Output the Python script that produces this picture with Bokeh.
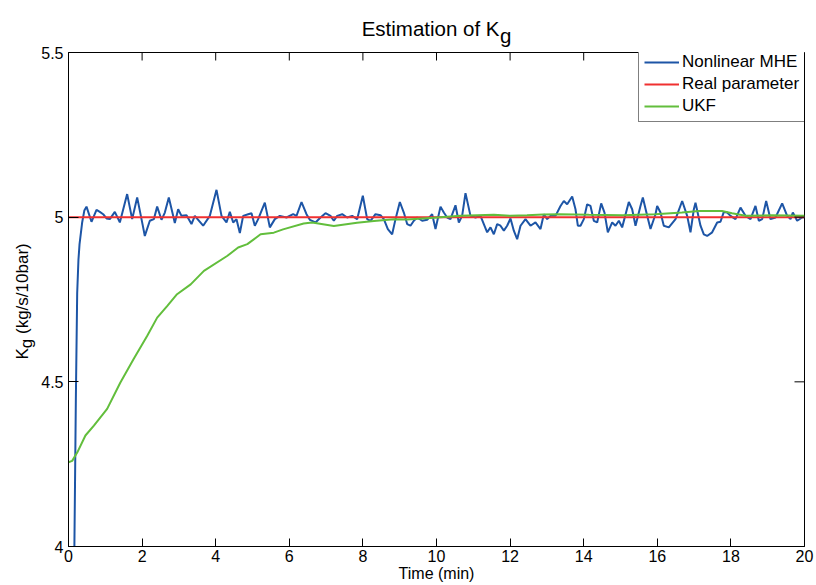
from bokeh.plotting import figure
from bokeh.models import Range1d, FixedTicker, Label
from bokeh.embed import file_html
from bokeh.resources import INLINE
import math

# ---------------- data ----------------
mhe_t = [0.14, 0.16, 0.20, 0.236, 0.27, 0.30, 0.37, 0.43,
         0.489, 0.625, 0.761, 0.851, 0.942, 1.033, 1.123, 1.259, 1.395, 1.594, 1.730, 1.866,
         2.011, 2.074, 2.210, 2.319, 2.409, 2.527, 2.618, 2.726, 2.844, 2.889, 2.980,
         3.071, 3.207, 3.342, 3.433, 3.524, 3.659, 3.841, 4.022, 4.158, 4.293, 4.384,
         4.475, 4.565, 4.656, 4.746, 4.882, 4.973, 5.063, 5.154, 5.335, 5.471, 5.607,
         5.743, 5.924, 6.105, 6.196, 6.332, 6.467, 6.558, 6.712, 6.848, 6.984, 7.120,
         7.210, 7.301, 7.437, 7.572, 7.708, 7.844, 7.998, 8.116, 8.207, 8.342, 8.478,
         8.569, 8.678, 8.795, 8.886, 9.004, 9.112, 9.203, 9.293, 9.384, 9.475, 9.611,
         9.746, 9.882, 9.973, 10.109, 10.199, 10.290, 10.380, 10.516, 10.607, 10.697,
         10.788, 10.924, 11.060, 11.196, 11.286, 11.377, 11.467, 11.558, 11.649, 11.739,
         11.830, 11.920, 12.011, 12.101, 12.192, 12.283, 12.418, 12.554, 12.690, 12.826,
         12.917, 13.007, 13.098, 13.234, 13.370, 13.460, 13.551, 13.687, 13.777, 13.841,
         13.913, 14.004, 14.094, 14.185, 14.275, 14.366, 14.475, 14.565, 14.656, 14.774,
         14.864, 14.955, 15.045, 15.226, 15.317, 15.408, 15.543, 15.607, 15.725, 15.815,
         15.951, 15.996, 16.087, 16.177, 16.313, 16.495, 16.676, 16.812, 16.902, 16.993,
         17.038, 17.174, 17.264, 17.355, 17.491, 17.627, 17.717, 17.808, 17.899, 17.989,
         18.125, 18.261, 18.397, 18.533, 18.668, 18.759, 18.850, 18.958, 19.076, 19.212,
         19.393, 19.529, 19.620, 19.683, 19.801, 19.937, 20.0]
mhe_v = [3.85, 4.00, 4.45, 4.77, 4.87, 4.918, 4.983, 5.02,
         5.032, 4.986, 5.022, 5.016, 5.009, 4.996, 4.994, 5.016, 4.984, 5.070, 4.994, 5.060,
         4.979, 4.943, 4.989, 4.994, 5.032, 4.992, 5.014, 5.060, 5.004, 4.982, 5.024,
         5.004, 5.006, 4.979, 5.004, 4.992, 4.974, 5.004, 5.083, 5.004, 4.984, 5.016,
         4.984, 4.994, 4.952, 5.004, 5.009, 5.012, 4.974, 4.994, 5.044, 4.969, 4.994,
         5.004, 4.999, 5.009, 5.004, 5.046, 5.009, 4.992, 4.984, 4.999, 5.012, 5.004,
         4.989, 5.004, 5.009, 4.999, 5.004, 4.994, 5.065, 4.994, 4.989, 5.009, 5.006,
         4.994, 4.964, 4.948, 4.994, 5.046, 5.014, 4.979, 4.974, 4.989, 4.999, 4.989,
         4.992, 5.009, 4.964, 5.032, 5.014, 4.999, 4.994, 5.036, 4.984, 5.004,
         5.073, 5.004, 4.999, 5.004, 4.979, 4.954, 4.969, 4.948, 4.979, 4.974,
         4.959, 4.974, 4.996, 4.959, 4.933, 4.974, 4.994, 4.974, 4.984, 4.964,
         5.009, 4.994, 5.004, 5.004, 5.034, 5.049, 5.039, 5.063, 5.024, 4.974,
         4.974, 4.994, 5.039, 5.034, 4.989, 4.984, 5.042, 5.014, 4.954, 4.984,
         4.974, 4.989, 4.969, 5.046, 5.024, 4.974, 5.034, 5.060, 5.004, 4.964,
         5.009, 5.034, 5.014, 4.974, 4.969, 4.994, 5.049, 5.004, 4.954, 5.024,
         5.044, 4.974, 4.948, 4.943, 4.954, 4.984, 4.986, 5.016, 5.014, 5.004,
         4.994, 5.029, 5.004, 4.994, 5.034, 4.989, 4.994, 5.049, 4.994, 4.999,
         5.042, 5.004, 4.994, 5.014, 4.989, 4.999, 5.0]

real_t = [0.0, 20.0]
real_v = [5.0, 5.0]

ukf_t = [0.0, 0.1, 0.24, 0.46, 0.69, 1.05, 1.41, 1.77, 2.14, 2.41, 2.68, 2.95, 3.32,
         3.68, 4.31, 4.61, 4.86, 5.22, 5.58, 5.83, 6.39, 6.62, 7.21, 7.84, 8.3, 8.84,
         9.2, 9.93, 10.65, 11.56, 12.0, 12.46, 12.9, 13.35, 14.14, 15.05, 15.95, 16.67,
         17.13, 17.76, 18.03, 18.4, 19.12, 20.0]
ukf_v = [4.256, 4.26, 4.286, 4.337, 4.367, 4.418, 4.498, 4.569, 4.64, 4.695, 4.73, 4.766, 4.796,
         4.837, 4.882, 4.908, 4.918, 4.948, 4.953, 4.963, 4.981, 4.984, 4.973, 4.983, 4.988, 4.994,
         4.993, 4.998, 5.004, 5.007, 5.004, 5.006, 5.008, 5.009, 5.007, 5.006, 5.009, 5.014,
         5.019, 5.019, 5.012, 5.004, 5.006, 5.004]

series_names = ["Nonlinear MHE", "Real parameter", "UKF"]
x_ticks = [0, 2, 4, 6, 8, 10, 12, 14, 16, 18, 20]
y_ticks = [4, 4.5, 5, 5.5]
y_tick_labels = ["4", "4.5", "5", "5.5"]
title_main = "Estimation of K"
title_sub = "g"
ylabel_main = "K\u00a0\u00a0\u00a0(kg/s/10bar)"
ylabel_sub = "g"
xlabel = "Time (min)"

# ---------------- layout ----------------
W, H = 816, 585
L, R, T, B = 68, 12, 52, 39
X0, X1, Y0, Y1 = 0, 20, 4, 5.5
FONT = "Liberation Sans"
fw = W - L - R
fh = H - T - B

def dx(px):
    return X0 + (px - L) * (X1 - X0) / fw

def dy(py):
    return Y0 + (H - B - py) * (Y1 - Y0) / fh

p = figure(width=W, height=H, x_range=Range1d(X0, X1), y_range=Range1d(Y0, Y1),
           output_backend="svg", toolbar_location=None,
           min_border_left=L, min_border_right=R, min_border_top=T, min_border_bottom=B)
p.background_fill_color = "white"
p.border_fill_color = "white"
p.outline_line_color = "black"
p.outline_line_width = 1
p.grid.visible = False

p.line(mhe_t, mhe_v, line_color="#1d55a6", line_width=2, legend_label=series_names[0])
p.line(real_t, real_v, line_color="#f03030", line_width=2, legend_label=series_names[1])
p.line(ukf_t, ukf_v, line_color="#62be3c", line_width=2, legend_label=series_names[2])

# inner ticks on the top and right edges of the box
XT, YT = 8, 10   # tick lengths in px
p.segment(x0=x_ticks, y0=[Y1] * len(x_ticks), x1=x_ticks,
          y1=[Y1 - XT * (Y1 - Y0) / fh] * len(x_ticks), line_color="black", line_width=1)
p.segment(x0=[X1] * len(y_ticks), y0=y_ticks, x1=[X1 - YT * (X1 - X0) / fw] * len(y_ticks),
          y1=y_ticks, line_color="black", line_width=1)

xa = p.xaxis[0]
xa.ticker = FixedTicker(ticks=x_ticks)
xa.major_tick_in = XT
xa.major_tick_out = 0
xa.minor_tick_line_color = None
xa.axis_line_color = "black"
xa.major_tick_line_color = "black"
xa.major_label_text_font = FONT
xa.major_label_text_font_size = "16px"
xa.major_label_text_color = "black"
xa.major_label_standoff = 3
xa.axis_label = xlabel
xa.axis_label_text_font = FONT
xa.axis_label_text_font_size = "16px"
xa.axis_label_text_font_style = "normal"
xa.axis_label_text_color = "black"
xa.axis_label_standoff = 0

ya = p.yaxis[0]
ya.ticker = FixedTicker(ticks=y_ticks)
ya.major_label_overrides = {t: s for t, s in zip(y_ticks, y_tick_labels)}
ya.major_tick_in = YT
ya.major_tick_out = 0
ya.minor_tick_line_color = None
ya.axis_line_color = "black"
ya.major_tick_line_color = "black"
ya.major_label_text_font = FONT
ya.major_label_text_font_size = "16px"
ya.major_label_text_color = "black"
ya.major_label_standoff = 5

# legend
lg = p.legend[0]
lg.location = (570, 424)
lg.border_line_color = "black"
lg.border_line_width = 1
lg.background_fill_color = "white"
lg.background_fill_alpha = 1
lg.label_text_font = FONT
lg.label_text_font_size = "17px"
lg.label_text_color = "black"
lg.glyph_width = 35
lg.glyph_height = 20
lg.label_height = 20
lg.label_standoff = 3
lg.padding = 5
lg.spacing = 2
lg.margin = 0

# title with subscript (labels live in the side panels so they are not clipped)
p.add_layout(Label(x=dx(499), y=dy(27.5), text=title_main, text_align="right",
                   text_baseline="alphabetic", text_font=FONT, text_font_size="20.5px",
                   text_color="black"), "above")
p.add_layout(Label(x=dx(499.5), y=dy(35), text=title_sub, text_align="left",
                   text_baseline="alphabetic", text_font=FONT, text_font_size="20.5px",
                   text_color="black"), "above")

# y-axis label with subscript (rotated, reads bottom to top)
p.add_layout(Label(x=dx(21.5), y=dy(359), text=ylabel_main, angle=math.pi / 2,
                   text_align="left", text_baseline="alphabetic", text_font=FONT,
                   text_font_size="17px", text_color="black"), "left")
p.add_layout(Label(x=dx(25.8), y=dy(347.7), text=ylabel_sub, angle=math.pi / 2,
                   text_align="left", text_baseline="alphabetic", text_font=FONT,
                   text_font_size="17px", text_color="black"), "left")

open("out.html", "w").write(file_html(p, INLINE))
